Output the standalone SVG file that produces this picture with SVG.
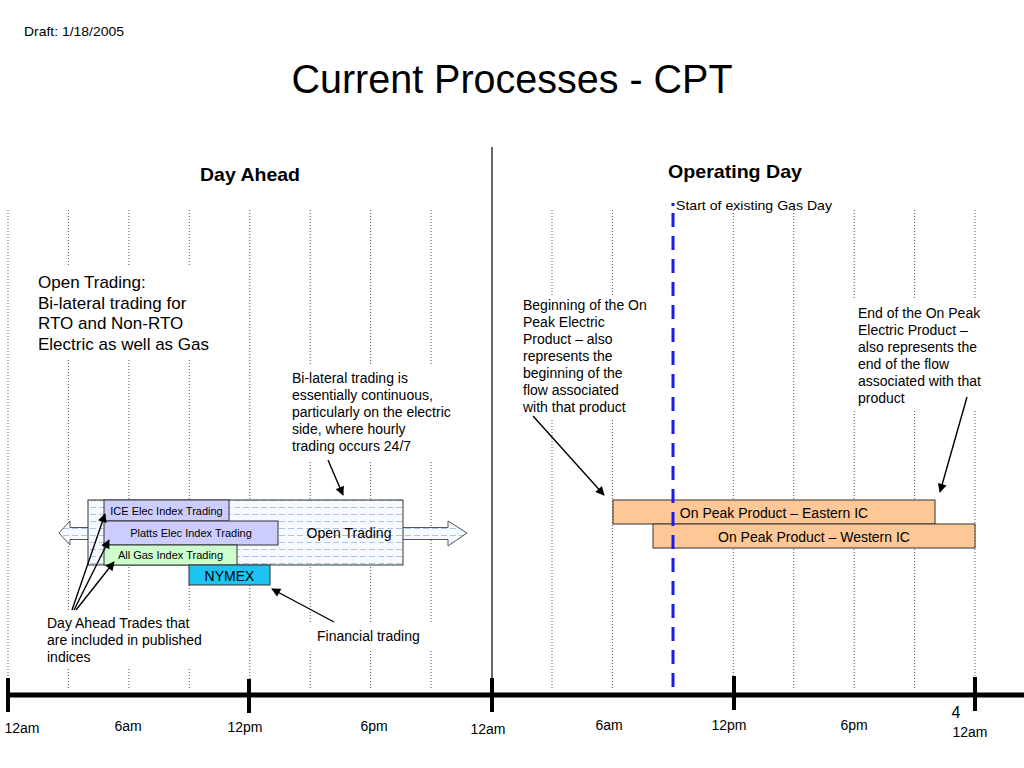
<svg xmlns="http://www.w3.org/2000/svg" width="1024" height="768" viewBox="0 0 1024 768">
<defs>
<style>
text{font-family:"Liberation Sans",Arial,sans-serif;fill:#000}
.grid{stroke:#555;stroke-width:1;stroke-dasharray:1 2}
.note{font-size:14px}
.box{stroke:#333;stroke-width:1}
.lbl{font-size:11px;text-anchor:middle}
.conn{stroke:#000;stroke-width:1.4;fill:none;marker-end:url(#ah)}
.tick{stroke:#000;stroke-width:4}
.tl{font-size:14px;text-anchor:middle}
.bg{fill:#fff}
</style>
<marker id="ah" viewBox="0 0 10 10" refX="9" refY="5" markerWidth="11" markerHeight="9" markerUnits="userSpaceOnUse" orient="auto">
<path d="M0,0 L10,5 L0,10 Z" fill="#000"/>
</marker>
<pattern id="dash" width="9" height="7" patternUnits="userSpaceOnUse">
<rect width="9" height="7" fill="#f6f9fd"/>
<line x1="0" y1="3.5" x2="6" y2="3.5" stroke="#a9c6e8" stroke-width="1"/>
</pattern>
</defs>
<rect width="1024" height="768" fill="#fff"/>

<g id="header">
<text x="24" y="36" font-size="13" textLength="100" lengthAdjust="spacingAndGlyphs">Draft: 1/18/2005</text>
<text x="512" y="93" font-size="40" text-anchor="middle" textLength="441" lengthAdjust="spacingAndGlyphs">Current Processes - CPT</text>
<text x="250" y="181" font-size="19" font-weight="bold" text-anchor="middle" textLength="100" lengthAdjust="spacingAndGlyphs">Day Ahead</text>
<text x="735" y="178" font-size="19" font-weight="bold" text-anchor="middle" textLength="134" lengthAdjust="spacingAndGlyphs">Operating Day</text>
</g>

<g id="grid">
<line class="grid" x1="8" y1="210" x2="8" y2="690"/>
<line class="grid" x1="68.4" y1="210" x2="68.4" y2="690"/>
<line class="grid" x1="128.9" y1="210" x2="128.9" y2="690"/>
<line class="grid" x1="189.3" y1="210" x2="189.3" y2="690"/>
<line class="grid" x1="249.8" y1="210" x2="249.8" y2="690"/>
<line class="grid" x1="310.2" y1="210" x2="310.2" y2="690"/>
<line class="grid" x1="370.6" y1="210" x2="370.6" y2="690"/>
<line class="grid" x1="431.1" y1="210" x2="431.1" y2="690"/>
<line class="grid" x1="552" y1="210" x2="552" y2="690"/>
<line class="grid" x1="612.4" y1="210" x2="612.4" y2="690"/>
<line class="grid" x1="733.3" y1="210" x2="733.3" y2="690"/>
<line class="grid" x1="793.7" y1="210" x2="793.7" y2="690"/>
<line class="grid" x1="854.2" y1="210" x2="854.2" y2="690"/>
<line class="grid" x1="914.6" y1="210" x2="914.6" y2="690"/>
<line class="grid" x1="975" y1="210" x2="975" y2="690"/>
<line x1="492" y1="147" x2="492" y2="695" stroke="#333" stroke-width="1.5"/>
</g>

<g id="note-open-trading">
<rect class="bg" x="30" y="266" width="205" height="94"/>
<text x="38" y="288" font-size="17">Open Trading:</text>
<text x="38" y="309" font-size="17">Bi-lateral trading for</text>
<text x="38" y="329" font-size="17">RTO and Non-RTO</text>
<text x="38" y="350" font-size="17">Electric as well as Gas</text>
</g>

<g id="note-bilateral">
<rect class="bg" x="285" y="364" width="175" height="96"/>
<text class="note" x="292" y="383">Bi-lateral trading is</text>
<text class="note" x="292" y="400">essentially continuous,</text>
<text class="note" x="292" y="417">particularly on the electric</text>
<text class="note" x="292" y="434">side, where hourly</text>
<text class="note" x="292" y="451">trading occurs 24/7</text>
</g>

<g id="note-beginning">
<rect class="bg" x="515" y="296" width="140" height="124"/>
<text class="note" x="523" y="310">Beginning of the On</text>
<text class="note" x="523" y="327">Peak Electric</text>
<text class="note" x="523" y="344">Product – also</text>
<text class="note" x="523" y="361">represents the</text>
<text class="note" x="523" y="378">beginning of the</text>
<text class="note" x="523" y="395">flow associated</text>
<text class="note" x="523" y="412">with that product</text>
</g>

<g id="note-end">
<rect class="bg" x="848" y="300" width="138" height="110"/>
<text class="note" x="858" y="318">End of the On Peak</text>
<text class="note" x="858" y="335">Electric Product –</text>
<text class="note" x="858" y="352">also represents the</text>
<text class="note" x="858" y="369">end of the flow</text>
<text class="note" x="858" y="386">associated with that</text>
<text class="note" x="858" y="403">product</text>
</g>

<g id="note-day-ahead-trades">
<rect class="bg" x="40" y="610" width="175" height="58"/>
<text class="note" x="47" y="628">Day Ahead Trades that</text>
<text class="note" x="47" y="645">are included in published</text>
<text class="note" x="47" y="662">indices</text>
</g>

<g id="note-financial">
<rect class="bg" x="305" y="622" width="135" height="27"/>
<text class="note" x="317" y="641">Financial trading</text>
</g>

<g id="open-trading-arrow">
<polygon points="59,533 70,521 70,527.5 448,527.5 448,521 467,533 448,546 448,539.5 70,539.5 70,545" fill="url(#dash)" stroke="#555" stroke-width="1"/>
</g>

<g id="open-trading">
<rect x="88" y="500" width="315" height="65" fill="url(#dash)" stroke="#333" stroke-width="1"/>
<text x="349" y="538" font-size="14" text-anchor="middle">Open Trading</text>
</g>

<g id="ice">
<rect class="box" x="104" y="500" width="125" height="21" fill="#ccccff"/>
<text class="lbl" x="166.5" y="515">ICE Elec Index Trading</text>
</g>

<g id="platts">
<rect class="box" x="104" y="521" width="174" height="24" fill="#ccccff"/>
<text class="lbl" x="191" y="537">Platts Elec Index Trading</text>
</g>

<g id="allgas">
<rect class="box" x="104" y="545" width="133" height="20" fill="#ccffcc"/>
<text class="lbl" x="170.5" y="559">All Gas Index Trading</text>
</g>

<g id="nymex">
<rect class="box" x="189" y="565" width="81" height="20" fill="#1cc4f2"/>
<text x="229.5" y="581" font-size="14" text-anchor="middle">NYMEX</text>
</g>

<g id="eastern">
<rect class="box" x="613" y="500" width="322" height="24" fill="#fdc896"/>
<text x="774" y="518" font-size="14" text-anchor="middle">On Peak Product – Eastern IC</text>
</g>

<g id="western">
<rect class="box" x="653" y="524" width="322" height="24" fill="#fdc896"/>
<text x="814" y="542" font-size="14" text-anchor="middle">On Peak Product – Western IC</text>
</g>

<g id="gas-day">
<rect x="671.5" y="203" width="3" height="3" fill="#1a1aee"/>
<line x1="673" y1="213" x2="673" y2="688" stroke="#1a1aee" stroke-width="3" stroke-dasharray="14 9"/>
<text x="676" y="210" font-size="13" textLength="156" lengthAdjust="spacingAndGlyphs">Start of existing Gas Day</text>
</g>

<g id="connectors">
<line class="conn" x1="328" y1="460" x2="343" y2="495"/>
<line class="conn" x1="533" y1="416" x2="604" y2="495"/>
<line class="conn" x1="967" y1="397" x2="940" y2="492"/>
<line class="conn" x1="334" y1="622" x2="272" y2="589"/>
<line class="conn" x1="72" y1="610" x2="105" y2="514"/>
<line class="conn" x1="74" y1="610" x2="109" y2="540"/>
<line class="conn" x1="76" y1="610" x2="114" y2="562"/>
</g>

<g id="timeline">
<line x1="6" y1="695" x2="1024" y2="695" stroke="#000" stroke-width="5"/>
<line class="tick" x1="8" y1="678" x2="8" y2="712"/>
<line class="tick" x1="249" y1="679" x2="249" y2="713"/>
<line class="tick" x1="492" y1="678" x2="492" y2="712"/>
<line class="tick" x1="734" y1="676" x2="734" y2="710"/>
<line class="tick" x1="975" y1="677" x2="975" y2="711"/>
<text class="tl" x="22" y="733">12am</text>
<text class="tl" x="128" y="731">6am</text>
<text class="tl" x="245" y="732">12pm</text>
<text class="tl" x="374" y="731">6pm</text>
<text class="tl" x="488" y="734">12am</text>
<text class="tl" x="609" y="730">6am</text>
<text class="tl" x="729" y="730">12pm</text>
<text class="tl" x="854" y="730">6pm</text>
<text class="tl" x="970" y="737">12am</text>
<text x="956" y="718" font-size="16" text-anchor="middle">4</text>
</g>
</svg>
